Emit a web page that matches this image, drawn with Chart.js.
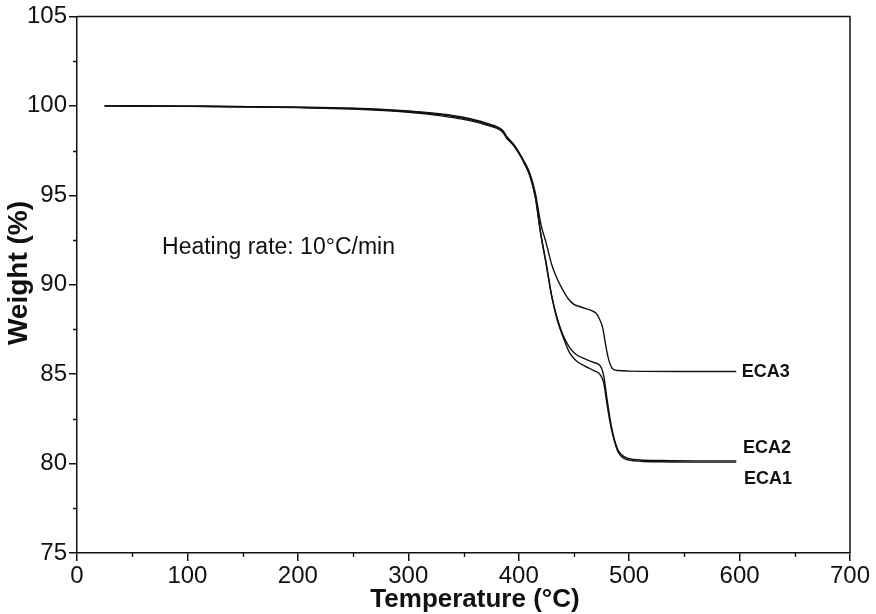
<!DOCTYPE html>
<html>
<head>
<meta charset="utf-8">
<title>TGA curves ECA1–ECA3</title>
<script src="https://cdn.jsdelivr.net/npm/chart.js@4/dist/chart.umd.min.js"></script>
<style>
  html, body { margin: 0; padding: 0; background: #fff; }
  #c { display: block; }
</style>
</head>
<body>
<canvas id="c" width="876" height="614"></canvas>
<script>
// Thermogravimetric curves, weight (%) against temperature (°C)
const tempsECA1 = [25, 100, 200, 250, 300, 330, 350, 370, 386, 389, 395, 400, 405, 410, 415, 420, 425, 430, 435, 440, 446, 452, 460, 468, 474, 477, 480, 483, 486, 490, 495, 500, 510, 530, 560, 597];
const weightECA1 = [100.0, 99.97, 99.9, 99.82, 99.64, 99.44, 99.24, 98.94, 98.5, 98.2, 97.8, 97.35, 96.8, 96.1, 94.9, 92.8, 91.1, 89.3, 88.0, 87.1, 86.2, 85.75, 85.45, 85.2, 84.95, 84.5, 83.3, 82.2, 81.4, 80.65, 80.3, 80.2, 80.13, 80.1, 80.08, 80.08];

const tempsECA2 = [25, 100, 200, 250, 300, 330, 350, 370, 386, 389, 395, 400, 405, 410, 415, 420, 425, 430, 435, 440, 446, 452, 460, 468, 474, 477, 480, 483, 486, 490, 495, 500, 510, 530, 560, 597];
const weightECA2 = [100.0, 99.98, 99.92, 99.85, 99.68, 99.5, 99.3, 98.98, 98.53, 98.23, 97.83, 97.38, 96.82, 96.12, 94.95, 92.85, 91.15, 89.35, 88.1, 87.2, 86.5, 86.1, 85.85, 85.65, 85.45, 84.9, 83.6, 82.4, 81.5, 80.75, 80.4, 80.28, 80.2, 80.17, 80.15, 80.15];

const tempsECA3 = [25, 100, 200, 250, 300, 330, 350, 370, 386, 389, 395, 400, 405, 410, 415, 420, 425, 430, 435, 440, 445, 450, 455, 460, 465, 470, 473, 476, 478, 480, 482, 485, 490, 500, 550, 597];
const weightECA3 = [100.0, 99.98, 99.93, 99.87, 99.72, 99.55, 99.36, 99.04, 98.6, 98.3, 97.88, 97.42, 96.88, 96.25, 95.15, 93.4, 92.3, 91.1, 90.3, 89.7, 89.2, 88.9, 88.78, 88.68, 88.58, 88.4, 88.1, 87.6, 86.9, 86.2, 85.7, 85.3, 85.2, 85.17, 85.15, 85.15];

const seriesNames = ['ECA1', 'ECA2', 'ECA3'];
const xTickValues = [0, 100, 200, 300, 400, 500, 600, 700];
const yTickValues = [75, 80, 85, 90, 95, 100, 105];
const xMinorValues = [50, 150, 250, 350, 450, 550, 650];
const yMinorValues = [77.5, 82.5, 87.5, 92.5, 97.5, 102.5];

// curve labels anchored in data units (left edge, baseline)
const curveLabels = [
  { text: 'ECA3', x: 602, y: 84.85 },
  { text: 'ECA2', x: 603, y: 80.57 },
  { text: 'ECA1', x: 604, y: 78.84 }
];
const noteText = 'Heating rate: 10°C/min';
const noteAt = { x: 77, y: 91.7 };

const FONT = '"Liberation Sans", Arial, Helvetica, sans-serif';
const INK = '#111';

function toPoints(xs, ys) { return xs.map((x, i) => ({ x: x, y: ys[i] })); }

const lineStyle = {
  borderColor: INK,
  borderWidth: 1.4,
  pointRadius: 0,
  fill: false,
  cubicInterpolationMode: 'monotone'
};

// frame, outward minor ticks, axis titles and annotations
const decorations = {
  id: 'decorations',
  afterDraw(chart) {
    const ctx = chart.ctx;
    const a = chart.chartArea;
    const xs = chart.scales.x, ys = chart.scales.y;
    ctx.save();
    ctx.strokeStyle = INK;
    ctx.lineWidth = 1.5;
    ctx.beginPath();
    ctx.moveTo(a.left, a.top);
    ctx.lineTo(a.right, a.top);
    ctx.lineTo(a.right, a.bottom);
    ctx.stroke();

    ctx.lineWidth = 1.3;
    ctx.beginPath();
    xMinorValues.forEach(v => {
      const px = Math.round(xs.getPixelForValue(v)) + 0.5;
      ctx.moveTo(px, a.bottom);
      ctx.lineTo(px, a.bottom + 4);
    });
    yMinorValues.forEach(v => {
      const py = Math.round(ys.getPixelForValue(v)) + 0.5;
      ctx.moveTo(a.left - 4, py);
      ctx.lineTo(a.left, py);
    });
    ctx.stroke();

    ctx.fillStyle = INK;
    // axis titles
    ctx.font = 'bold 26px ' + FONT;
    ctx.textAlign = 'center';
    ctx.textBaseline = 'alphabetic';
    ctx.fillText('Temperature (°C)', 475, 607);
    ctx.save();
    ctx.translate(27, 273);
    ctx.rotate(-Math.PI / 2);
    ctx.font = 'bold 28px ' + FONT;
    ctx.fillText('Weight (%)', 0, 0);
    ctx.restore();

    // heating rate note
    ctx.font = '23px ' + FONT;
    ctx.textAlign = 'left';
    ctx.fillText(noteText, xs.getPixelForValue(noteAt.x), ys.getPixelForValue(noteAt.y));

    // curve labels
    ctx.font = 'bold 18px ' + FONT;
    curveLabels.forEach(l => {
      ctx.fillText(l.text, xs.getPixelForValue(l.x), ys.getPixelForValue(l.y));
    });
    ctx.restore();
  }
};

new Chart(document.getElementById('c'), {
  type: 'line',
  data: {
    datasets: [
      Object.assign({ label: seriesNames[0], data: toPoints(tempsECA1, weightECA1) }, lineStyle),
      Object.assign({ label: seriesNames[1], data: toPoints(tempsECA2, weightECA2) }, lineStyle),
      Object.assign({ label: seriesNames[2], data: toPoints(tempsECA3, weightECA3) }, lineStyle)
    ]
  },
  options: {
    responsive: false,
    animation: false,
    devicePixelRatio: 1,
    layout: { padding: { top: 14, right: 26, left: 0, bottom: 0 } },
    plugins: { legend: { display: false }, tooltip: { enabled: false } },
    scales: {
      x: {
        type: 'linear',
        min: 0, max: 700,
        afterBuildTicks(scale) { scale.ticks = xTickValues.map(v => ({ value: v })); },
        afterFit(scale) { scale.height = 61; },
        ticks: { color: INK, font: { family: FONT, size: 24 }, padding: 1, maxRotation: 0 },
        grid: { drawOnChartArea: false, drawTicks: true, tickLength: 8, color: INK, lineWidth: 1.5 },
        border: { display: true, color: INK, width: 1.5 }
      },
      y: {
        type: 'linear',
        min: 75, max: 105,
        afterBuildTicks(scale) { scale.ticks = yTickValues.map(v => ({ value: v })); },
        afterFit(scale) { scale.width = 77; },
        ticks: { color: INK, font: { family: FONT, size: 24 }, padding: 2 },
        grid: { drawOnChartArea: false, drawTicks: true, tickLength: 8, color: INK, lineWidth: 1.5 },
        border: { display: true, color: INK, width: 1.5 }
      }
    }
  },
  plugins: [decorations]
});
</script>
</body>
</html>
